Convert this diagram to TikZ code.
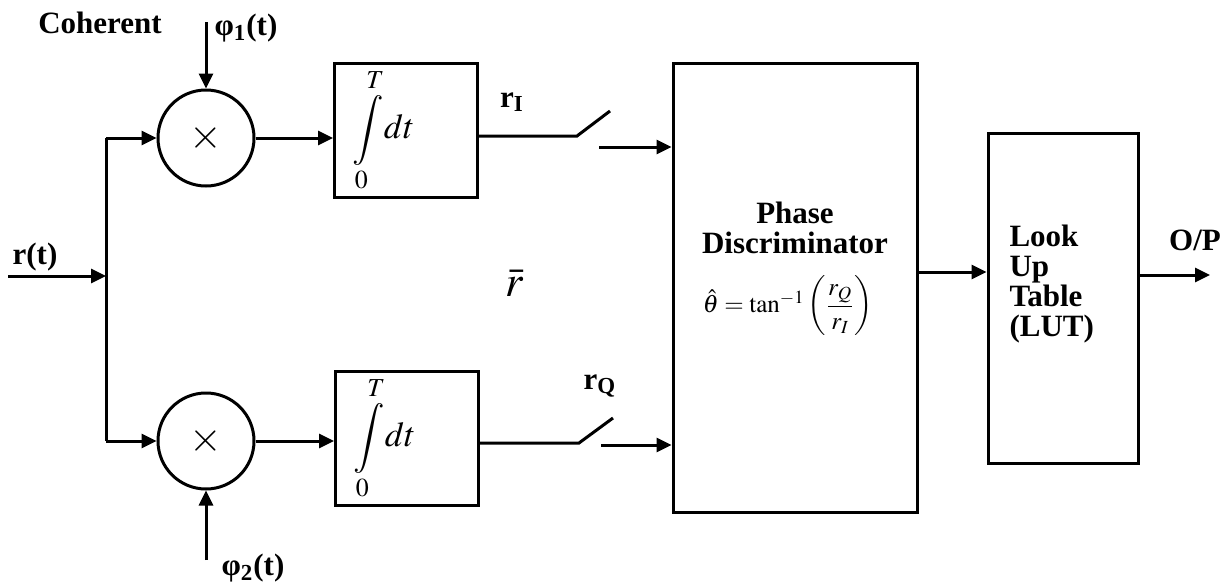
\documentclass[tikz,border=0pt]{standalone}
\usepackage{amsmath}
\usepackage{mathptmx}
\usepackage[no-math]{fontspec}
\setmainfont{Liberation Serif}
\usetikzlibrary{arrows.meta, positioning, calc}

\begin{document}
\begin{tikzpicture}[
    x=0.5pt, y=-0.5pt,
    line width=1.5pt,
    font=\fontsize{15.5}{15}\selectfont\bfseries,
    >={Triangle[length=7.5pt, width=7pt]},
    every node/.append style={inner sep=1pt},
    mixer/.style={draw, circle, minimum size=48pt, inner sep=0pt,
                  font=\fontsize{21}{21}\selectfont},
    intbox/.style={draw, minimum width=71.5pt, minimum height=67pt,
                   inner xsep=9pt, text width=53.5pt, align=left,
                   font=\fontsize{17.5}{18}\selectfont},
    block/.style={draw, minimum width=#1},
  ]
  \useasboundingbox (0,0) rectangle (1223,584);

  % mixers, integrators
  \node[mixer] (mixI) at (206,138) {$\times$};
  \node[mixer] (mixQ) at (206,441) {$\times$};
  \node[intbox] (intI) at (406,130) {$\displaystyle\int\limits_0^T\! dt$};
  \node[intbox] (intQ) at (407,438) {$\displaystyle\int\limits_0^T\! dt$};

  % phase discriminator and look up table
  \node[block=122pt, minimum height=224.5pt] (pd) at (795,287.5) {};
  \node[align=center] (pdname) at (795,228) {Phase\\Discriminator};
  \node[font=\fontsize{12.5}{14}\selectfont] (pdeq) at (788,306)
    {$\hat{\theta}=\tan^{-1}\left(\dfrac{r_Q}{r_I}\right)$};
  \node[block=75pt, minimum height=165pt] (lut) at (1063,298) {};
  \node[align=left, anchor=west] (luttxt) at (1006,284) {Look\\Up\\Table\\(LUT)};

  % free ends
  \coordinate (rin) at (8,276);
  \coordinate (split) at (106,276);
  \coordinate (splitI) at (106,138);
  \coordinate (splitQ) at (106,441);
  \coordinate (phiI) at (206,22);
  \coordinate (phiQ) at (206,560);
  \coordinate (swI) at (577,136);
  \coordinate (swIend) at (610,111);
  \coordinate (swIout) at (599,147);
  \coordinate (swQ) at (579,443);
  \coordinate (swQend) at (613,418);
  \coordinate (swQout) at (601,445);
  \coordinate (pdout) at (917,272);
  \coordinate (op) at (1210,275);

  % connectors
  \draw[->] (rin) -- (split);
  \draw (splitI) -- (splitQ);
  \draw[->] (splitI) -- (mixI);
  \draw[->] (splitQ) -- (mixQ);
  \draw[->] (phiI) -- (mixI);
  \draw[->] (phiQ) -- (mixQ);
  \draw[->] (mixI) -- (mixI -| intI.west);
  \draw[->] (mixQ) -- (mixQ -| intQ.west);
  \draw (intI.east |- swI) -- (swI) -- (swIend);
  \draw (intQ.east |- swQ) -- (swQ) -- (swQend);
  \draw[->] (swIout) -- (swIout -| pd.west);
  \draw[->] (swQout) -- (swQout -| pd.west);
  \draw[->] (pdout) -- (pdout -| lut.west);
  \draw[->] (lut.east |- op) -- (op);

  % labels
  \node (coh) at (100,23) {Coherent};
  \node (phiIlbl) at (246,28) {φ\textsubscript{1}(t)};
  \node (phiQlbl) at (253,568) {φ\textsubscript{2}(t)};
  \node (rtlbl) at (35,257) {r(t)};
  \node (rIlbl) at (512,102) {r\textsubscript{I}};
  \node (rQlbl) at (600,386) {r\textsubscript{Q}};
  \node[font=\fontsize{22}{24}\selectfont] (rbar) at (515,283) {$\bar{r}$};
  \node (oplbl) at (1195,240) {O/P};
\end{tikzpicture}
\end{document}
